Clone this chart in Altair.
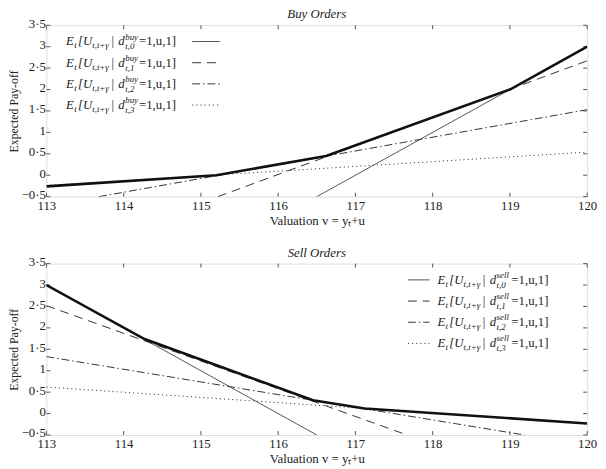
import altair as alt
import pandas as pd

# ---------------- data ----------------
X_TICKS = [113, 114, 115, 116, 117, 118, 119, 120]
Y_TICKS = [-0.5, 0, 0.5, 1, 1.5, 2, 2.5, 3, 3.5]

# Buy orders
buy0_x = [116.5, 120];   buy0_y = [-0.5, 3.0]
buy1_x = [115.22, 120];  buy1_y = [-0.5, 2.67]
buy2_x = [113.68, 120];  buy2_y = [-0.5, 1.53]
buy3_x = [113, 120];     buy3_y = [-0.24, 0.54]
buyE_x = [113, 115.2, 116.62, 119, 120]
buyE_y = [-0.26, 0.0, 0.45, 2.0, 3.0]

# Sell orders
sell0_x = [113, 116.5];   sell0_y = [3.0, -0.5]
sell1_x = [113, 117.67];  sell1_y = [2.52, -0.5]
sell2_x = [113, 119.19];  sell2_y = [1.33, -0.5]
sell3_x = [113, 120];     sell3_y = [0.62, -0.23]
sellE_x = [113, 114.27, 116.45, 117.12, 120]
sellE_y = [3.0, 1.74, 0.31, 0.12, -0.23]

SUBS = ["t,0", "t,1", "t,2", "t,3"]

# ---------------- styling / layout ----------------
FONT = "Liberation Serif, Times New Roman, serif"
INK = "#222222"
W, H = 549, 174

xscale = alt.Scale(domain=[113, 120], nice=False, zero=False)
yscale = alt.Scale(domain=[-0.5, 3.5], nice=False, zero=False)

xaxis = alt.Axis(values=X_TICKS, format="d", title="Valuation v = yₜ+u",
                 ticks=False, domain=False, grid=False, labelPadding=3,
                 titlePadding=2, labelFont=FONT, titleFont=FONT,
                 labelFontSize=13, titleFontSize=13, titleFontWeight="normal",
                 labelColor=INK, titleColor=INK, labelFlush=False)
yaxis = alt.Axis(values=Y_TICKS, title="Expected Pay-off", ticks=False,
                 domain=False, grid=False, labelPadding=1, titlePadding=1,
                 labelOffset=-2,
                 labelExpr="datum.value % 1 == 0 ? format(datum.value, 'd') : replace(format(datum.value, '.1f'), '.', '·')",
                 labelFont=FONT, titleFont=FONT, labelFontSize=13,
                 titleFontSize=12, titleFontWeight="normal",
                 labelColor=INK, titleColor=INK)

STYLES = [
    dict(color="#555555", strokeWidth=1.0),
    dict(color="#333333", strokeWidth=1.0, strokeDash=[9, 6]),
    dict(color="#333333", strokeWidth=1.0, strokeDash=[8, 3, 1.5, 3]),
    dict(color="#444444", strokeWidth=1.0, strokeDash=[1.2, 3]),
]


def line(xs, ys, **mark):
    df = pd.DataFrame({"v": xs, "p": ys})
    return alt.Chart(df).mark_line(clip=True, **mark).encode(
        x=alt.X("v:Q", scale=xscale, axis=xaxis),
        y=alt.Y("p:Q", scale=yscale, axis=yaxis),
    )


def inner_ticks():
    dx = pd.DataFrame({"v": X_TICKS})
    dy = pd.DataFrame({"p": Y_TICKS})
    tk = dict(color="#555555", strokeWidth=1)
    X = alt.X("v:Q", scale=xscale, axis=xaxis)
    Y = alt.Y("p:Q", scale=yscale, axis=yaxis)
    return [
        alt.Chart(dx).mark_rule(**tk).encode(x=X, y=alt.value(H), y2=alt.value(H - 4)),
        alt.Chart(dx).mark_rule(**tk).encode(x=X, y=alt.value(0), y2=alt.value(4)),
        alt.Chart(dy).mark_rule(**tk).encode(y=Y, x=alt.value(0), x2=alt.value(4)),
        alt.Chart(dy).mark_rule(**tk).encode(y=Y, x=alt.value(W), x2=alt.value(W - 4)),
    ]


ONE = alt.Data(values=[{}])
ROWS_Y = [16.5, 38, 59.5, 81]


def txt(x, y, s, size=13, italic=True, align="left"):
    return alt.Chart(ONE).mark_text(
        font=FONT, fontSize=size, fontStyle="italic" if italic else "normal",
        align=align, baseline="middle", color=INK,
    ).encode(x=alt.value(x), y=alt.value(y), text=alt.value(s))


def legend(x0, sample, sup, tail):
    layers = []
    for i, y in enumerate(ROWS_Y):
        layers.append(alt.Chart(ONE).mark_rule(**STYLES[i]).encode(
            x=alt.value(sample[0]), x2=alt.value(sample[1]), y=alt.value(y)))
        layers += [
            txt(x0, y, "E"),
            txt(x0 + 8.3, y + 4, "t", 9),
            txt(x0 + 12, y, "[U"),
            txt(x0 + 26.5, y + 4, "t,t+γ", 9),
            txt(x0 + 46, y, "|", 13, False),
            txt(x0 + 53, y, "d"),
            txt(x0 + 60, y - 5, sup, 9),
            txt(x0 + 60, y + 5, SUBS[i], 9),
            txt(x0 + 60 + (14 if sup == "buy" else 15), y, tail, 13, False),
        ]
    return layers


def panel(lines, env, title, leg):
    layers = []
    for (xs, ys), st in zip(lines, STYLES):
        layers.append(line(xs, ys, **st))
    layers += inner_ticks()
    layers.append(line(env[0], env[1], color="#111111", strokeWidth=2.6))
    layers += leg
    layers.append(txt(W / 2, -11, title, 13, True, "center"))
    return alt.layer(*layers).properties(width=W, height=H)


top = panel(
    [(buy0_x, buy0_y), (buy1_x, buy1_y), (buy2_x, buy2_y), (buy3_x, buy3_y)],
    (buyE_x, buyE_y), "Buy Orders",
    legend(20, (148, 176), "buy", "=1,u,1]"),
)
bottom = panel(
    [(sell0_x, sell0_y), (sell1_x, sell1_y), (sell2_x, sell2_y), (sell3_x, sell3_y)],
    (sellE_x, sellE_y), "Sell Orders",
    legend(397, (367, 389), "sell", "=1,u,1]"),
)

chart = alt.vconcat(top, bottom, spacing=18).properties(
    padding={"left": -2, "top": -4, "right": 0, "bottom": 0}
).configure_view(stroke="#555555", strokeWidth=1).configure(background="white")

chart.save("out.html", embed_options={"renderer": "svg", "actions": False})
